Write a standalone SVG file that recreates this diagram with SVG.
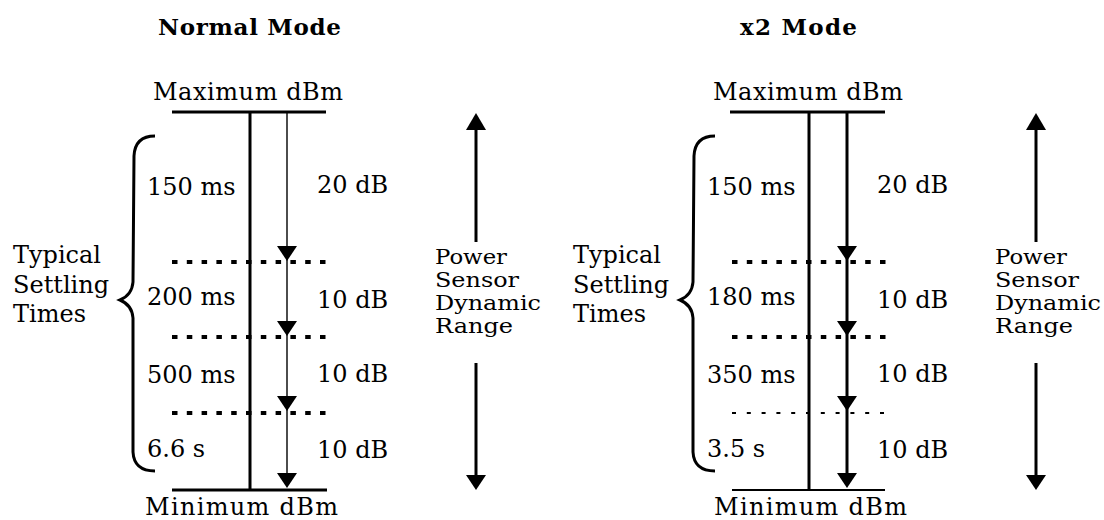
<svg xmlns="http://www.w3.org/2000/svg" xmlns:xlink="http://www.w3.org/1999/xlink" width="1104" height="520" viewBox="0 0 1104 520">
<style>
text{font-family:"DejaVu Serif","Liberation Serif",serif;font-size:24px;fill:#000}
.title{font-weight:bold;font-size:23px}
.rng{font-size:20px}
.ln{stroke:#000;fill:none}
.thick{stroke-width:3}
.thin{stroke-width:1.4}
.dot{stroke:#000;stroke-width:4;stroke-dasharray:5.5 9.3}
.dots{stroke:#000;stroke-width:2;stroke-dasharray:4 10.8}
.brace{stroke:#000;stroke-width:3;fill:none}
</style>
<defs>
<path id="ahd" d="M -10 -15 L 10 -15 L 0 0 Z" fill="#000"/>
<path id="ahu" d="M -10 17 L 10 17 L 0 0 Z" fill="#000"/>
</defs>
<rect width="1104" height="520" fill="#fff"/>

<!-- Normal Mode -->
<g id="normal-title"><text class="title" x="158" y="35" textLength="183">Normal Mode</text></g>
<g id="normal-max"><text x="153" y="100" textLength="190">Maximum dBm</text></g>
<g id="normal-min"><text x="145" y="515" textLength="193">Minimum dBm</text></g>
<g id="normal-times">
<text x="147" y="195">150 ms</text>
<text x="147" y="305">200 ms</text>
<text x="147" y="383">500 ms</text>
<text x="147" y="457">6.6 s</text>
</g>
<g id="normal-db">
<text x="317" y="193">20 dB</text>
<text x="317" y="308">10 dB</text>
<text x="317" y="382">10 dB</text>
<text x="317" y="458">10 dB</text>
</g>
<g id="normal-settling">
<path class="brace" d="M 155 136 Q 135 136 134 156 L 133 282 Q 132 295 120 300 Q 132 305 133 318 L 133 452 Q 134 471 155 471"/>
<text x="13" y="263">Typical</text>
<text x="13" y="293">Settling</text>
<text x="13" y="322">Times</text>
</g>
<g id="normal-range">
<text class="rng" x="435" y="264" textLength="72" lengthAdjust="spacingAndGlyphs">Power</text>
<text class="rng" x="435" y="287" textLength="84" lengthAdjust="spacingAndGlyphs">Sensor</text>
<text class="rng" x="435" y="310" textLength="106" lengthAdjust="spacingAndGlyphs">Dynamic</text>
<text class="rng" x="435" y="333" textLength="78" lengthAdjust="spacingAndGlyphs">Range</text>
</g>

<!-- x2 Mode -->
<g id="x2-title"><text class="title" x="740" y="35" textLength="117">x2 Mode</text></g>
<g id="x2-max"><text x="713" y="100" textLength="190">Maximum dBm</text></g>
<g id="x2-min"><text x="714" y="515" textLength="193">Minimum dBm</text></g>
<g id="x2-times">
<text x="707" y="195">150 ms</text>
<text x="707" y="305">180 ms</text>
<text x="707" y="383">350 ms</text>
<text x="707" y="457">3.5 s</text>
</g>
<g id="x2-db">
<text x="877" y="193">20 dB</text>
<text x="877" y="308">10 dB</text>
<text x="877" y="382">10 dB</text>
<text x="877" y="458">10 dB</text>
</g>
<g id="x2-settling">
<path class="brace" d="M 715 136 Q 695 136 694 156 L 693 282 Q 692 295 680 300 Q 692 305 693 318 L 693 452 Q 694 471 715 471"/>
<text x="573" y="263">Typical</text>
<text x="573" y="293">Settling</text>
<text x="573" y="322">Times</text>
</g>
<g id="x2-range">
<text class="rng" x="995" y="264" textLength="72" lengthAdjust="spacingAndGlyphs">Power</text>
<text class="rng" x="995" y="287" textLength="84" lengthAdjust="spacingAndGlyphs">Sensor</text>
<text class="rng" x="995" y="310" textLength="106" lengthAdjust="spacingAndGlyphs">Dynamic</text>
<text class="rng" x="995" y="333" textLength="78" lengthAdjust="spacingAndGlyphs">Range</text>
</g>

<g id="connectors">
<!-- Normal -->
<path class="ln thick" d="M 172 112 H 326"/>
<path class="ln thick" d="M 172 490 H 327"/>
<path class="ln thick" d="M 250 112 V 490"/>
<path class="ln thin" d="M 287 112 V 480"/>
<use xlink:href="#ahd" x="287" y="261"/>
<use xlink:href="#ahd" x="287" y="336"/>
<use xlink:href="#ahd" x="287" y="411"/>
<use xlink:href="#ahd" x="287" y="488"/>
<path class="dot" d="M 172 262 H 328"/>
<path class="dot" d="M 172 337 H 328"/>
<path class="dot" d="M 172 413 H 328"/>
<path class="ln thick" d="M 476 128 V 242"/>
<use xlink:href="#ahu" x="476" y="113"/>
<path class="ln thick" d="M 476 363 V 476"/>
<use xlink:href="#ahd" x="476" y="490"/>
<!-- x2 -->
<path class="ln thick" d="M 730 112 H 885"/>
<path class="ln" stroke-width="2" d="M 732 490 H 885"/>
<path class="ln thick" d="M 809 112 V 490"/>
<path class="ln thick" d="M 847 112 V 480"/>
<use xlink:href="#ahd" x="847" y="261"/>
<use xlink:href="#ahd" x="847" y="336"/>
<use xlink:href="#ahd" x="847" y="411"/>
<use xlink:href="#ahd" x="847" y="488"/>
<path class="dot" d="M 732 262 H 888"/>
<path class="dot" d="M 732 337 H 888"/>
<path class="dots" d="M 732 413 H 888"/>
<path class="ln thick" d="M 1036 128 V 242"/>
<use xlink:href="#ahu" x="1036" y="113"/>
<path class="ln thick" d="M 1036 363 V 476"/>
<use xlink:href="#ahd" x="1036" y="490"/>
</g>
</svg>
